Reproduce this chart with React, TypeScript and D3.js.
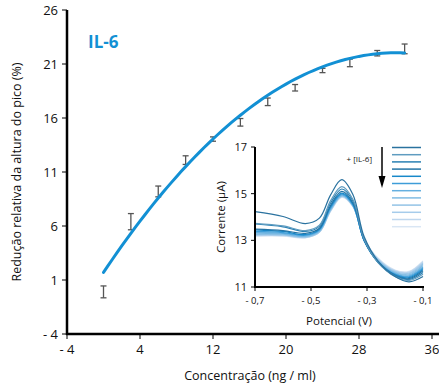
import React from 'react';
import { scaleLinear, line, curveCatmullRom, curveLinear } from 'd3';

// main calibration data
const conc = [0, 3, 6, 9, 12, 15, 18, 21, 24, 27, 30, 33];
const reduction = [-0.1, 6.4, 9.2, 12.1, 14.05, 15.6, 17.5, 18.8, 20.4, 21.1, 22.0, 22.4];
const reductionErr = [0.55, 0.75, 0.5, 0.4, 0.2, 0.35, 0.35, 0.3, 0.2, 0.35, 0.25, 0.45];
// quadratic fit y = a + b x + c x^2
const fitCoef = [1.7, 1.266, -0.0197];
const xTicks = [-4, 4, 12, 20, 28, 36];
const yTicks = [-4, 1, 6, 11, 16, 21, 26];

// inset voltammograms
const potential = [-0.7, -0.6, -0.52, -0.47, -0.43, -0.39, -0.35, -0.31, -0.26, -0.2, -0.15, -0.1];
const curves = [
  [14.23, 14.02, 13.72, 13.95, 14.95, 15.6, 14.95, 13.15, 12.1, 11.45, 11.22, 11.45],
  [13.73, 13.62, 13.42, 13.65, 14.7, 15.3, 14.75, 13.05, 12.05, 11.45, 11.28, 11.55],
  [13.7, 13.58, 13.38, 13.6, 14.6, 15.2, 14.68, 13.02, 12.05, 11.48, 11.32, 11.62],
  [13.48, 13.42, 13.3, 13.52, 14.5, 15.1, 14.6, 13.0, 12.05, 11.5, 11.36, 11.7],
  [13.45, 13.38, 13.25, 13.48, 14.45, 15.02, 14.55, 12.98, 12.06, 11.52, 11.4, 11.75],
  [13.38, 13.33, 13.22, 13.45, 14.4, 14.98, 14.52, 12.98, 12.08, 11.55, 11.44, 11.8],
  [13.33, 13.3, 13.2, 13.42, 14.36, 14.95, 14.5, 12.98, 12.1, 11.58, 11.48, 11.86],
  [13.28, 13.27, 13.17, 13.4, 14.32, 14.92, 14.48, 12.99, 12.12, 11.61, 11.52, 11.92],
  [13.25, 13.24, 13.15, 13.38, 14.3, 14.9, 14.47, 13.0, 12.14, 11.64, 11.56, 11.98],
  [13.22, 13.22, 13.13, 13.36, 14.28, 14.88, 14.46, 13.02, 12.17, 11.67, 11.6, 12.03],
  [13.2, 13.2, 13.12, 13.35, 14.26, 14.86, 14.45, 13.04, 12.2, 11.7, 11.64, 12.08],
  [13.18, 13.18, 13.1, 13.34, 14.24, 14.84, 14.44, 13.06, 12.23, 11.73, 11.67, 12.12],
];
const curveColors = [
  '#2a729f', '#5f9cc0', '#2a80b3', '#2474a6', '#1888c9', '#3e9dd8',
  '#66b0e0', '#80bce3', '#93c3e6', '#a6cceb', '#bfd7ee', '#d9e6f4',
];
const insetXTicks = [-0.7, -0.5, -0.3, -0.1];
const insetYTicks = [11, 13, 15, 17];

const W = 439;
const H = 385;
const FONT = '"Open Sans", "Noto Sans", sans-serif';

const fmt = (v: number) => (v < 0 ? '- ' + String(Math.abs(v)).replace('.', ',') : String(v).replace('.', ','));

export default function App() {
  const x = scaleLinear().domain([-4, 36]).range([67, 432]);
  const y = scaleLinear().domain([-4, 26]).range([334, 10]);

  const ix = scaleLinear().domain([-0.7, -0.1]).range([255, 423]);
  const iy = scaleLinear().domain([11, 17]).range([287, 147]);

  const fitPts: [number, number][] = [];
  for (let c = conc[0]; c <= conc[conc.length - 1]; c += 0.5) {
    fitPts.push([c, fitCoef[0] + fitCoef[1] * c + fitCoef[2] * c * c]);
  }
  const fitLine = line<[number, number]>()
    .x((d) => x(d[0]))
    .y((d) => y(d[1]))
    .curve(curveLinear);

  const dpv = line<number>()
    .x((d, i) => ix(potential[i]))
    .y((d) => iy(d))
    .curve(curveCatmullRom.alpha(0.5));

  return (
    <svg width={W} height={H} style={{ position: 'absolute', left: 0, top: 0, background: '#fff' }} fontFamily={FONT}>
      {/* main axes */}
      <line x1={x(-4)} x2={x(-4)} y1={y(26)} y2={y(-4) + 1} stroke="#000" strokeWidth={2.5} />
      <line x1={x(-4) - 1} x2={W} y1={y(-4)} y2={y(-4)} stroke="#000" strokeWidth={2.5} />
      {yTicks.map((t) => (
        <g key={'yt' + t}>
          <line x1={x(-4) - 5} x2={x(-4)} y1={y(t)} y2={y(t)} stroke="#000" strokeWidth={1} />
          <text x={x(-4) - 9} y={y(t)} dy="0.36em" textAnchor="end" fontSize={13} fill="#111">
            {fmt(t)}
          </text>
        </g>
      ))}
      {xTicks.map((t) => (
        <g key={'xt' + t}>
          <line x1={x(t)} x2={x(t)} y1={y(-4)} y2={y(-4) + 5} stroke="#000" strokeWidth={1} />
          <text x={x(t)} y={y(-4) + 20} textAnchor="middle" fontSize={13} fill="#111">
            {fmt(t)}
          </text>
        </g>
      ))}
      <text x={250} y={380} textAnchor="middle" fontSize={12.5} fill="#111">
        Concentração (ng / ml)
      </text>
      <text transform={`translate(21,${y(11)}) rotate(-90)`} textAnchor="middle" fontSize={12.5} fill="#111">
        Redução relativa da altura do pico (%)
      </text>
      <text x={88} y={48} fontSize={17} fontWeight="bold" fill="#1290d4">
        IL-6
      </text>

      {/* error bars */}
      {conc.map((c, i) => {
        const cx = x(c);
        const y1 = y(reduction[i] + reductionErr[i]);
        const y2 = y(reduction[i] - reductionErr[i]);
        return (
          <g key={'eb' + i} stroke="#555" strokeWidth={1.3}>
            <line x1={cx} x2={cx} y1={y1} y2={y2} />
            <line x1={cx - 3} x2={cx + 3} y1={y1} y2={y1} />
            <line x1={cx - 3} x2={cx + 3} y1={y2} y2={y2} />
          </g>
        );
      })}
      <path d={fitLine(fitPts) || ''} fill="none" stroke="#1290d4" strokeWidth={3} strokeLinecap="round" />

      {/* inset */}
      <g>
        {curves.map((cv, k) => (
          <path key={'c' + k} d={dpv(cv) || ''} fill="none" stroke={curveColors[k]} strokeWidth={1.2} />
        )).reverse()}
        <line x1={ix(-0.7)} x2={ix(-0.7)} y1={iy(17)} y2={iy(11) + 1} stroke="#000" strokeWidth={2} />
        <line x1={ix(-0.7) - 1} x2={ix(-0.1) + 1} y1={iy(11)} y2={iy(11)} stroke="#000" strokeWidth={2} />
        {insetYTicks.map((t) => (
          <g key={'iyt' + t}>
            <line x1={ix(-0.7) - 4} x2={ix(-0.7)} y1={iy(t)} y2={iy(t)} stroke="#000" strokeWidth={1} />
            <text x={ix(-0.7) - 8} y={iy(t)} dy="0.36em" textAnchor="end" fontSize={11} fill="#111">
              {t}
            </text>
          </g>
        ))}
        {insetXTicks.map((t) => (
          <g key={'ixt' + t}>
            <line x1={ix(t)} x2={ix(t)} y1={iy(11)} y2={iy(11) + 4} stroke="#000" strokeWidth={1} />
            <text x={ix(t)} y={iy(11) + 17} textAnchor="middle" fontSize={9.5} fill="#111">
              {fmt(t)}
            </text>
          </g>
        ))}
        <text x={ix(-0.4)} y={325} textAnchor="middle" fontSize={11.5} fill="#111">
          Potencial (V)
        </text>
        <text transform={`translate(225,${iy(14)}) rotate(-90)`} textAnchor="middle" fontSize={11.5} fill="#111">
          Corrente (μA)
        </text>
        {/* concentration arrow */}
        <text x={372} y={162} textAnchor="end" fontSize={8} fill="#111">
          + [IL-6]
        </text>
        <line x1={382} x2={382} y1={147} y2={180} stroke="#000" strokeWidth={1.5} />
        <path d="M378.5,176 L382,188 L385.5,176 Z" fill="#000" />
        {curveColors.map((col, k) => (
          <line key={'lg' + k} x1={392} x2={421} y1={147.5 + k * 7.2} y2={147.5 + k * 7.2} stroke={col} strokeWidth={1.5} />
        ))}
      </g>
    </svg>
  );
}
